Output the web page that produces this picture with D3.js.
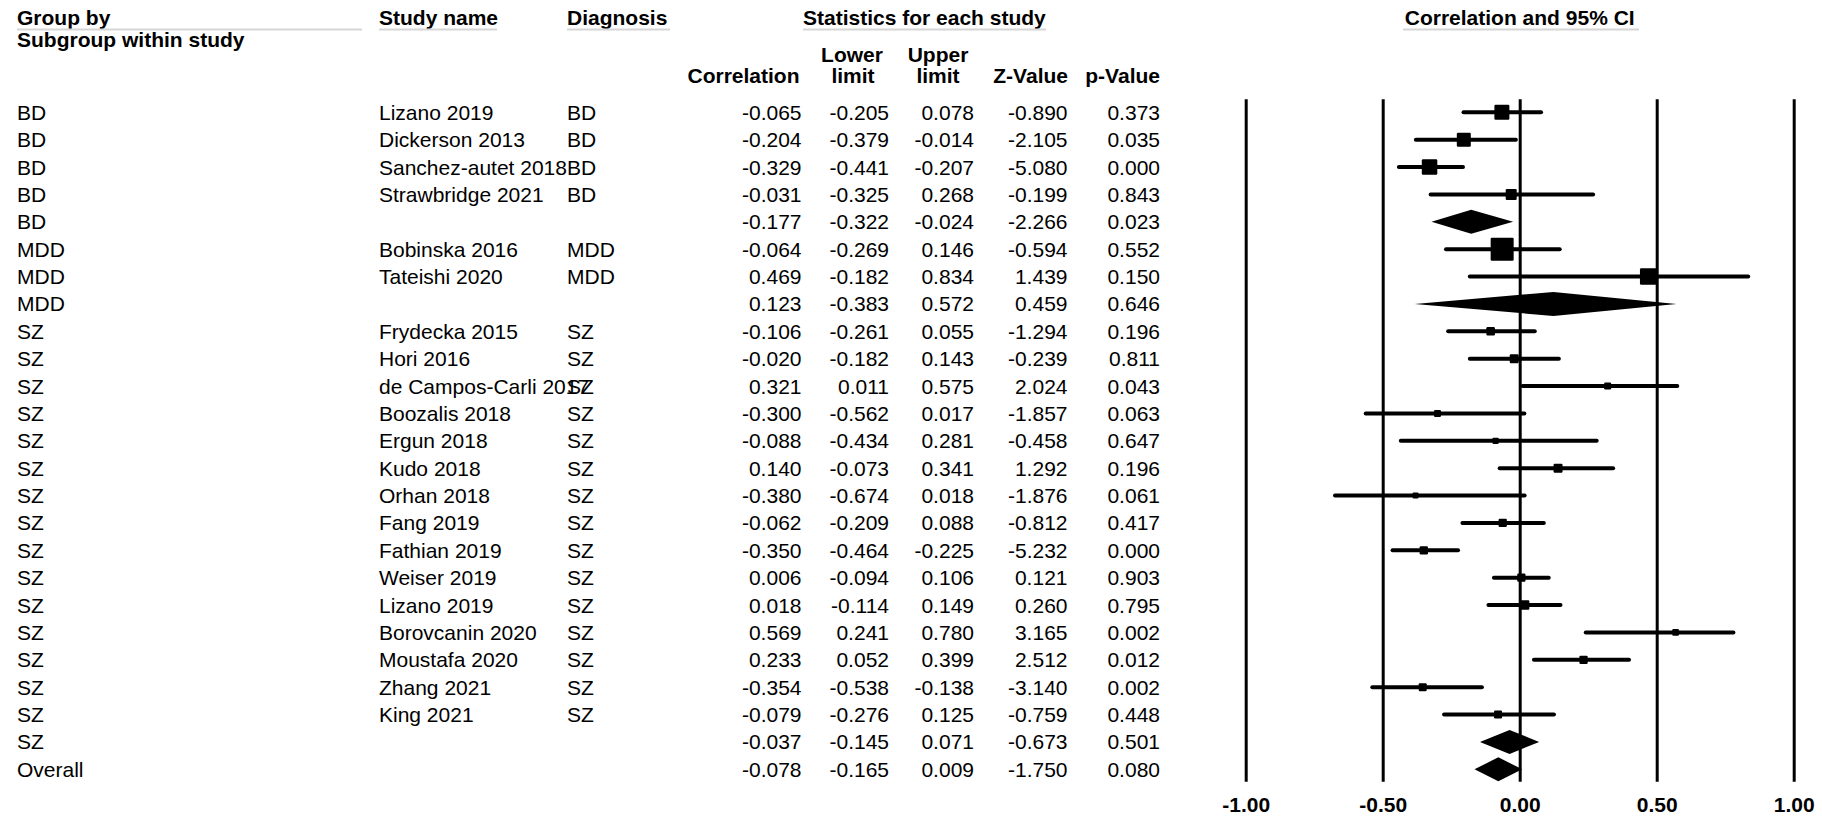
<!DOCTYPE html>
<html>
<head>
<meta charset="utf-8">
<script src="https://cdn.jsdelivr.net/npm/d3@7"></script>
<style>
  html, body { margin: 0; padding: 0; background: #fff; }
  svg text { font-family: "Liberation Sans", Arial, Helvetica, sans-serif; fill: #000; }
</style>
</head>
<body>
<svg id="chart" width="1822" height="816"></svg>
<script>
// ---- Forest plot data: correlation between measures by diagnosis subgroup ----
const groups = ["BD","BD","BD","BD","BD","MDD","MDD","MDD",
  "SZ","SZ","SZ","SZ","SZ","SZ","SZ","SZ","SZ","SZ","SZ","SZ","SZ","SZ","SZ","SZ","Overall"];
const studies = ["Lizano 2019","Dickerson 2013","Sanchez-autet 2018","Strawbridge 2021","",
  "Bobinska 2016","Tateishi 2020","",
  "Frydecka 2015","Hori 2016","de Campos-Carli 2017","Boozalis 2018","Ergun 2018","Kudo 2018",
  "Orhan 2018","Fang 2019","Fathian 2019","Weiser 2019","Lizano 2019","Borovcanin 2020",
  "Moustafa 2020","Zhang 2021","King 2021","",""];
const diagnoses = ["BD","BD","BD","BD","","MDD","MDD","",
  "SZ","SZ","SZ","SZ","SZ","SZ","SZ","SZ","SZ","SZ","SZ","SZ","SZ","SZ","SZ","",""];
const correlation = [-0.065,-0.204,-0.329,-0.031,-0.177,-0.064,0.469,0.123,
  -0.106,-0.020,0.321,-0.300,-0.088,0.140,-0.380,-0.062,-0.350,0.006,0.018,0.569,0.233,-0.354,-0.079,-0.037,-0.078];
const lowerLimit = [-0.205,-0.379,-0.441,-0.325,-0.322,-0.269,-0.182,-0.383,
  -0.261,-0.182,0.011,-0.562,-0.434,-0.073,-0.674,-0.209,-0.464,-0.094,-0.114,0.241,0.052,-0.538,-0.276,-0.145,-0.165];
const upperLimit = [0.078,-0.014,-0.207,0.268,-0.024,0.146,0.834,0.572,
  0.055,0.143,0.575,0.017,0.281,0.341,0.018,0.088,-0.225,0.106,0.149,0.780,0.399,-0.138,0.125,0.071,0.009];
const zValue = [-0.890,-2.105,-5.080,-0.199,-2.266,-0.594,1.439,0.459,
  -1.294,-0.239,2.024,-1.857,-0.458,1.292,-1.876,-0.812,-5.232,0.121,0.260,3.165,2.512,-3.140,-0.759,-0.673,-1.750];
const pValue = [0.373,0.035,0.000,0.843,0.023,0.552,0.150,0.646,
  0.196,0.811,0.043,0.063,0.647,0.196,0.061,0.417,0.000,0.903,0.795,0.002,0.012,0.002,0.448,0.501,0.080];
// relative study weight (largest = 100); summary rows have none
const relWeight = [42.5,37,45.4,22.9,null,100,51.5,null,
  13.7,15.3,9.3,9.3,7.5,15.3,6.8,13,13,13,17,8.5,13,12.1,12.1,null,null];
const summaryRow = [false,false,false,false,true,false,false,true,
  false,false,false,false,false,false,false,false,false,false,false,false,false,false,false,true,true];
const tickValues = [-1, -0.5, 0, 0.5, 1];

const rows = groups.map((g, i) => ({
  group: g, study: studies[i], diag: diagnoses[i],
  r: correlation[i], lo: lowerLimit[i], hi: upperLimit[i],
  z: zValue[i], p: pValue[i], w: relWeight[i], summary: summaryRow[i], idx: i
}));

const svg = d3.select("#chart");
const FS = 21;

const y = d3.scalePoint().domain(d3.range(rows.length)).range([112.3, 769.3]);
const x = d3.scaleLinear().domain([-1, 1]).range([1245.7, 1793.7]);
const boxSize = d3.scaleSqrt().domain([0, 100]).range([0, 23]);
const fmt3 = d => d.toFixed(3);

// ---- headers ----
const header = svg.append("g").attr("font-weight", "bold").attr("font-size", FS);
function headText(t, xx, yy, anchor) {
  header.append("text").attr("x", xx).attr("y", yy).attr("text-anchor", anchor || "start").text(t);
}
function underline(x1, x2) {
  svg.append("line").attr("x1", x1).attr("x2", x2).attr("y1", 29.5).attr("y2", 29.5)
    .attr("stroke", "#d6d6d6").attr("stroke-width", 2);
}
headText("Group by", 17, 25);
headText("Subgroup within study", 17, 47);
headText("Study name", 379, 25);
headText("Diagnosis", 567, 25);
headText("Statistics for each study", 803, 25);
headText("Correlation", 799.5, 83, "end");
headText("Lower", 852, 61.5, "middle");
headText("limit", 853, 83, "middle");
headText("Upper", 938, 61.5, "middle");
headText("limit", 938, 83, "middle");
headText("Z-Value", 1068, 83, "end");
headText("p-Value", 1160, 83, "end");
headText("Correlation and 95% CI", x(0), 25, "middle");
underline(17, 362);
underline(379, 497);
underline(567, 670);
underline(803, 1046);
underline(1403, 1639);

// ---- table rows ----
const table = svg.append("g").attr("font-size", FS);
const cols = [
  { key: d => d.group, x: 17, anchor: "start" },
  { key: d => d.study, x: 379, anchor: "start" },
  { key: d => d.diag, x: 567, anchor: "start" },
  { key: d => fmt3(d.r), x: 801.5, anchor: "end" },
  { key: d => fmt3(d.lo), x: 889, anchor: "end" },
  { key: d => fmt3(d.hi), x: 974, anchor: "end" },
  { key: d => fmt3(d.z), x: 1067.5, anchor: "end" },
  { key: d => fmt3(d.p), x: 1160, anchor: "end" }
];
cols.forEach(c => {
  table.append("g").selectAll("text").data(rows).join("text")
    .attr("x", c.x).attr("y", d => y(d.idx) + 7.5)
    .attr("text-anchor", c.anchor)
    .text(c.key);
});

// ---- reference lines and axis labels ----
const axisTop = 99.3, axisBottom = 781.7;
const axis = d3.axisBottom(x)
  .tickValues(tickValues)
  .tickFormat(d => d.toFixed(2))
  .tickSizeInner(-(axisBottom - axisTop))
  .tickSizeOuter(0)
  .tickPadding(15);
const ag = svg.append("g").attr("transform", `translate(0,${axisBottom})`).call(axis);
ag.select(".domain").remove();
ag.selectAll(".tick line").attr("stroke", "#000").attr("stroke-width", 3);
ag.selectAll(".tick text").attr("font-size", FS).attr("font-weight", "bold")
  .attr("font-family", "Liberation Sans, Arial, sans-serif").attr("fill", "#000");

// ---- confidence intervals and point estimates ----
const plot = svg.append("g");
const studyRows = rows.filter(d => !d.summary);
plot.selectAll("line.ci").data(studyRows).join("line")
  .attr("class", "ci")
  .attr("x1", d => x(d.lo)).attr("x2", d => x(d.hi))
  .attr("y1", d => y(d.idx)).attr("y2", d => y(d.idx))
  .attr("stroke", "#000").attr("stroke-width", 4).attr("stroke-linecap", "round");
plot.selectAll("rect.box").data(studyRows).join("rect")
  .attr("class", "box")
  .attr("x", d => x(d.r) - boxSize(d.w) / 2)
  .attr("y", d => y(d.idx) - boxSize(d.w) / 2)
  .attr("width", d => boxSize(d.w)).attr("height", d => boxSize(d.w))
  .attr("rx", 1.2)
  .attr("fill", "#000");

// ---- pooled estimates as diamonds ----
const dh = 12;
plot.selectAll("path.diamond").data(rows.filter(d => d.summary)).join("path")
  .attr("class", "diamond")
  .attr("d", d => {
    const yy = y(d.idx);
    return `M${x(d.lo)},${yy}L${x(d.r)},${yy - dh}L${x(d.hi)},${yy}L${x(d.r)},${yy + dh}Z`;
  })
  .attr("fill", "#000");
</script>
</body>
</html>
